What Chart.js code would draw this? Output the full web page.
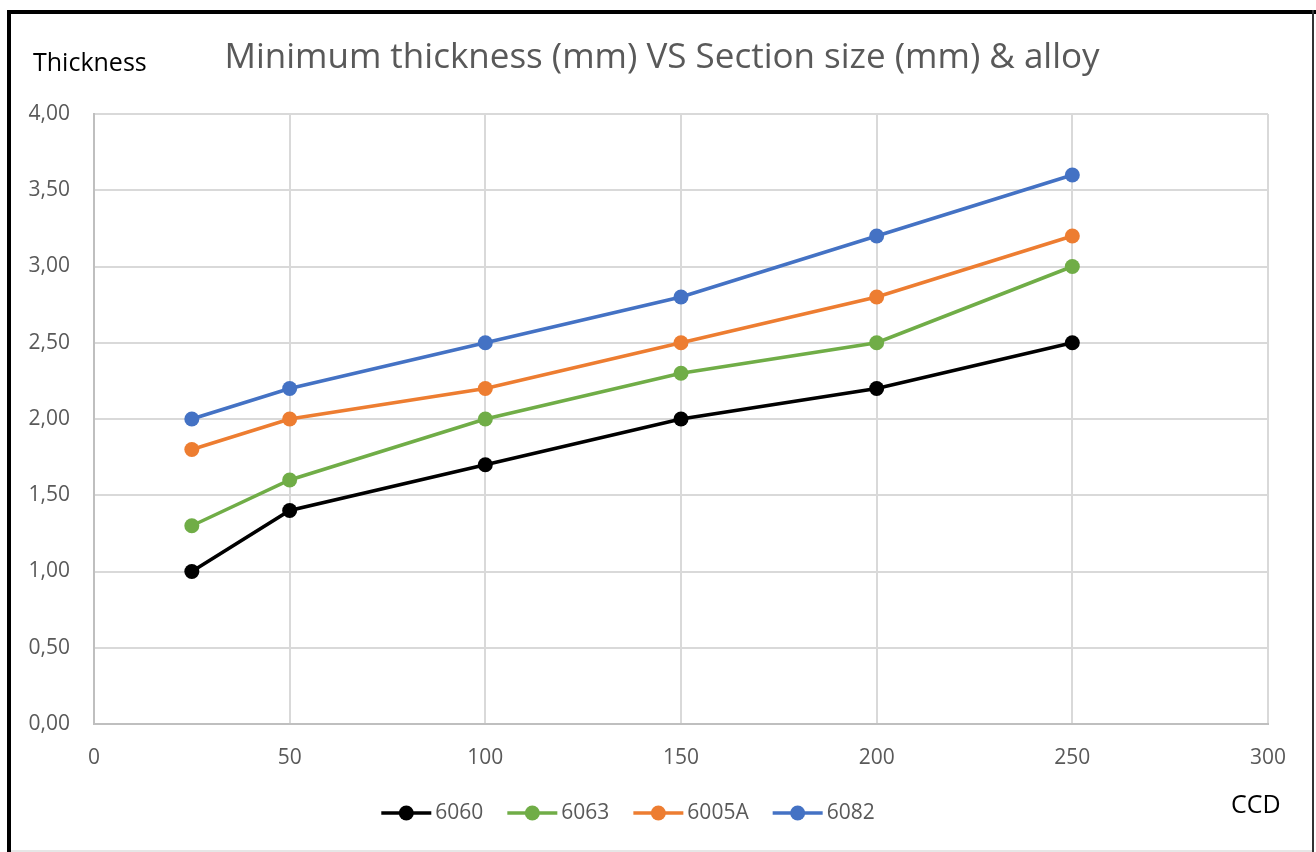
<!DOCTYPE html>
<html>
<head>
<meta charset="utf-8">
<script src="https://cdn.jsdelivr.net/npm/chart.js@4.4.1/dist/chart.umd.min.js"></script>
<style>
  html, body { margin: 0; padding: 0; background: #fff; }
  #wrap { position: absolute; left: 0; top: 0; width: 1316px; height: 852px; }
</style>
</head>
<body>
<div id="wrap"><canvas id="c" width="1316" height="852"></canvas></div>
<script>
const sectionSizes = [25, 50, 100, 150, 200, 250];
const seriesNames = ['6060', '6063', '6005A', '6082'];
const s6060  = [1.0, 1.4, 1.7, 2.0, 2.2, 2.5];
const s6063  = [1.3, 1.6, 2.0, 2.3, 2.5, 3.0];
const s6005A = [1.8, 2.0, 2.2, 2.5, 2.8, 3.2];
const s6082  = [2.0, 2.2, 2.5, 2.8, 3.2, 3.6];
const seriesColors = ['#000000', '#70ad47', '#ed7d31', '#4472c4'];
const titleText = 'Minimum thickness (mm) VS Section size (mm) & alloy';
const yAxisLabel = 'Thickness';
const xAxisLabel = 'CCD';

const seriesValues = [s6060, s6063, s6005A, s6082];
const FONT = "'Open Sans', 'Noto Sans', sans-serif";

const datasets = seriesValues.map((vals, i) => ({
  label: seriesNames[i],
  data: sectionSizes.map((x, j) => ({ x: x, y: vals[j] })),
  borderColor: seriesColors[i],
  backgroundColor: seriesColors[i],
  borderWidth: 3.5,
  pointRadius: 7.5,
  pointHoverRadius: 7.5,
  pointBorderWidth: 0,
  tension: 0
}));

const decorPlugin = {
  id: 'decor',
  afterDraw(chart) {
    const ctx = chart.ctx;
    ctx.save();
    // frame
    ctx.fillStyle = '#000';
    ctx.fillRect(7, 10, 1309, 4);   // top
    ctx.fillRect(7, 10, 4, 842);    // left
    ctx.fillStyle = '#333';
    ctx.fillRect(1312, 10, 2, 842); // right
    ctx.fillStyle = '#e6e6e6';
    ctx.fillRect(11, 850, 1301, 2); // bottom

    // title
    ctx.fillStyle = '#595959';
    ctx.font = "35px " + FONT;
    ctx.textAlign = 'center';
    ctx.textBaseline = 'alphabetic';
    ctx.fillText(titleText, 662, 68);

    // axis labels
    ctx.fillStyle = '#000';
    ctx.font = "25px " + FONT;
    ctx.textAlign = 'left';
    ctx.fillText(yAxisLabel, 33, 71);
    ctx.fillText(xAxisLabel, 1231, 813);

    // legend
    ctx.font = "21px " + FONT;
    ctx.textBaseline = 'middle';
    const lineW = 50, gapText = 4, gapItem = 24;
    let total = 0;
    const widths = seriesNames.map(n => ctx.measureText(n).width);
    widths.forEach((w, i) => { total += lineW + gapText + w + (i < widths.length - 1 ? gapItem : 0); });
    let x = 628 - total / 2;
    const y = 813;
    seriesNames.forEach((n, i) => {
      ctx.strokeStyle = seriesColors[i];
      ctx.lineWidth = 3.5;
      ctx.beginPath();
      ctx.moveTo(x, y);
      ctx.lineTo(x + lineW, y);
      ctx.stroke();
      ctx.fillStyle = seriesColors[i];
      ctx.beginPath();
      ctx.arc(x + lineW / 2, y, 7.5, 0, Math.PI * 2);
      ctx.fill();
      ctx.fillStyle = '#595959';
      ctx.fillText(n, x + lineW + gapText, y);
      x += lineW + gapText + widths[i] + gapItem;
    });
    ctx.restore();
  }
};

new Chart(document.getElementById('c'), {
  type: 'line',
  data: { datasets: datasets },
  options: {
    responsive: false,
    animation: false,
    devicePixelRatio: 1,
    layout: { padding: { left: 0, right: 48, top: 114, bottom: 78 } },
    plugins: {
      legend: { display: false },
      title: { display: false },
      tooltip: { enabled: false }
    },
    scales: {
      x: {
        type: 'linear',
        min: 0, max: 300,
        afterFit(scale) { scale.height = 50; },
        ticks: {
          stepSize: 50,
          padding: 21,
          color: '#595959',
          font: { family: FONT, size: 21 }
        },
        grid: { color: '#d9d9d9', lineWidth: 2, drawTicks: false },
        border: { display: true, color: '#bfbfbf', width: 2 }
      },
      y: {
        min: 0, max: 4,
        afterFit(scale) { scale.width = 94; },
        ticks: {
          stepSize: 0.5,
          padding: 24,
          color: '#595959',
          font: { family: FONT, size: 21 },
          callback: v => v.toFixed(2).replace('.', ',')
        },
        grid: { color: '#d9d9d9', lineWidth: 2, drawTicks: false },
        border: { display: true, color: '#bfbfbf', width: 2 }
      }
    }
  },
  plugins: [decorPlugin]
});
</script>
</body>
</html>
